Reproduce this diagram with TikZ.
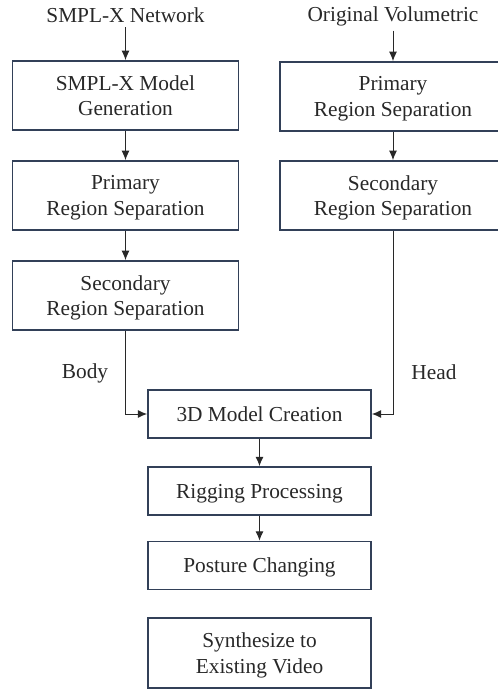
\documentclass[tikz,border=0pt]{standalone}
\usepackage{fontspec}
\setmainfont{Liberation Serif}
\usetikzlibrary{arrows.meta}
\definecolor{boxline}{RGB}{50,64,88}
\definecolor{txtgray}{RGB}{40,40,40}
\begin{document}
\begin{tikzpicture}[x=0.75pt, y=-0.75pt, line width=0.75pt,
  every node/.style={font=\fontsize{16}{19}\selectfont, text=txtgray, align=center},
  box/.style={draw=boxline, line width=1.2pt, inner sep=0pt, text depth=0pt, minimum width=169.5pt, minimum height=52pt},
  lowbox/.style={box, minimum width=167.25pt, minimum height=36pt},
  flow/.style={draw=txtgray, -{Latex[length=7pt,width=6pt]}}]
  \useasboundingbox (0,0) rectangle (497,689);
  \node (smplnet) at (125.5,15) {SMPL-X Network};
  \node (volnet) at (393,16) {Original Volumetric};
  \node[box] (gen) at (125.5,95.5) {SMPL-X Model\\Generation};
  \node[box] (lprim) at (125.5,195.5) {Primary\\Region Separation};
  \node[box] (lsec) at (125.5,295.5) {Secondary\\Region Separation};
  \node[box] (rprim) at (393,96.5) {Primary\\Region Separation};
  \node[box] (rsec) at (393,195.5) {Secondary\\Region Separation};
  \node (body) at (85,373) {Body};
  \node (head) at (434,372) {Head};
  \node[lowbox] (model) at (259.5,414) {3D Model Creation};
  \node[lowbox] (rig) at (259.5,491) {Rigging Processing};
  \node[lowbox] (posture) at (259.5,565.5) {Posture Changing};
  \node[lowbox, minimum height=52.5pt] (synth) at (259.5,653) {Synthesize to\\Existing Video};
  \draw[flow] (smplnet) -- (gen);
  \draw[flow] (gen) -- (lprim);
  \draw[flow] (lprim) -- (lsec);
  \draw[flow] (volnet) -- (rprim);
  \draw[flow] (rprim) -- (rsec);
  \draw[flow] (lsec.south) |- (model.west);
  \draw[flow] (rsec.south) |- (model.east);
  \draw[flow] (model) -- (rig);
  \draw[flow] (rig) -- (posture);
\end{tikzpicture}
\end{document}
